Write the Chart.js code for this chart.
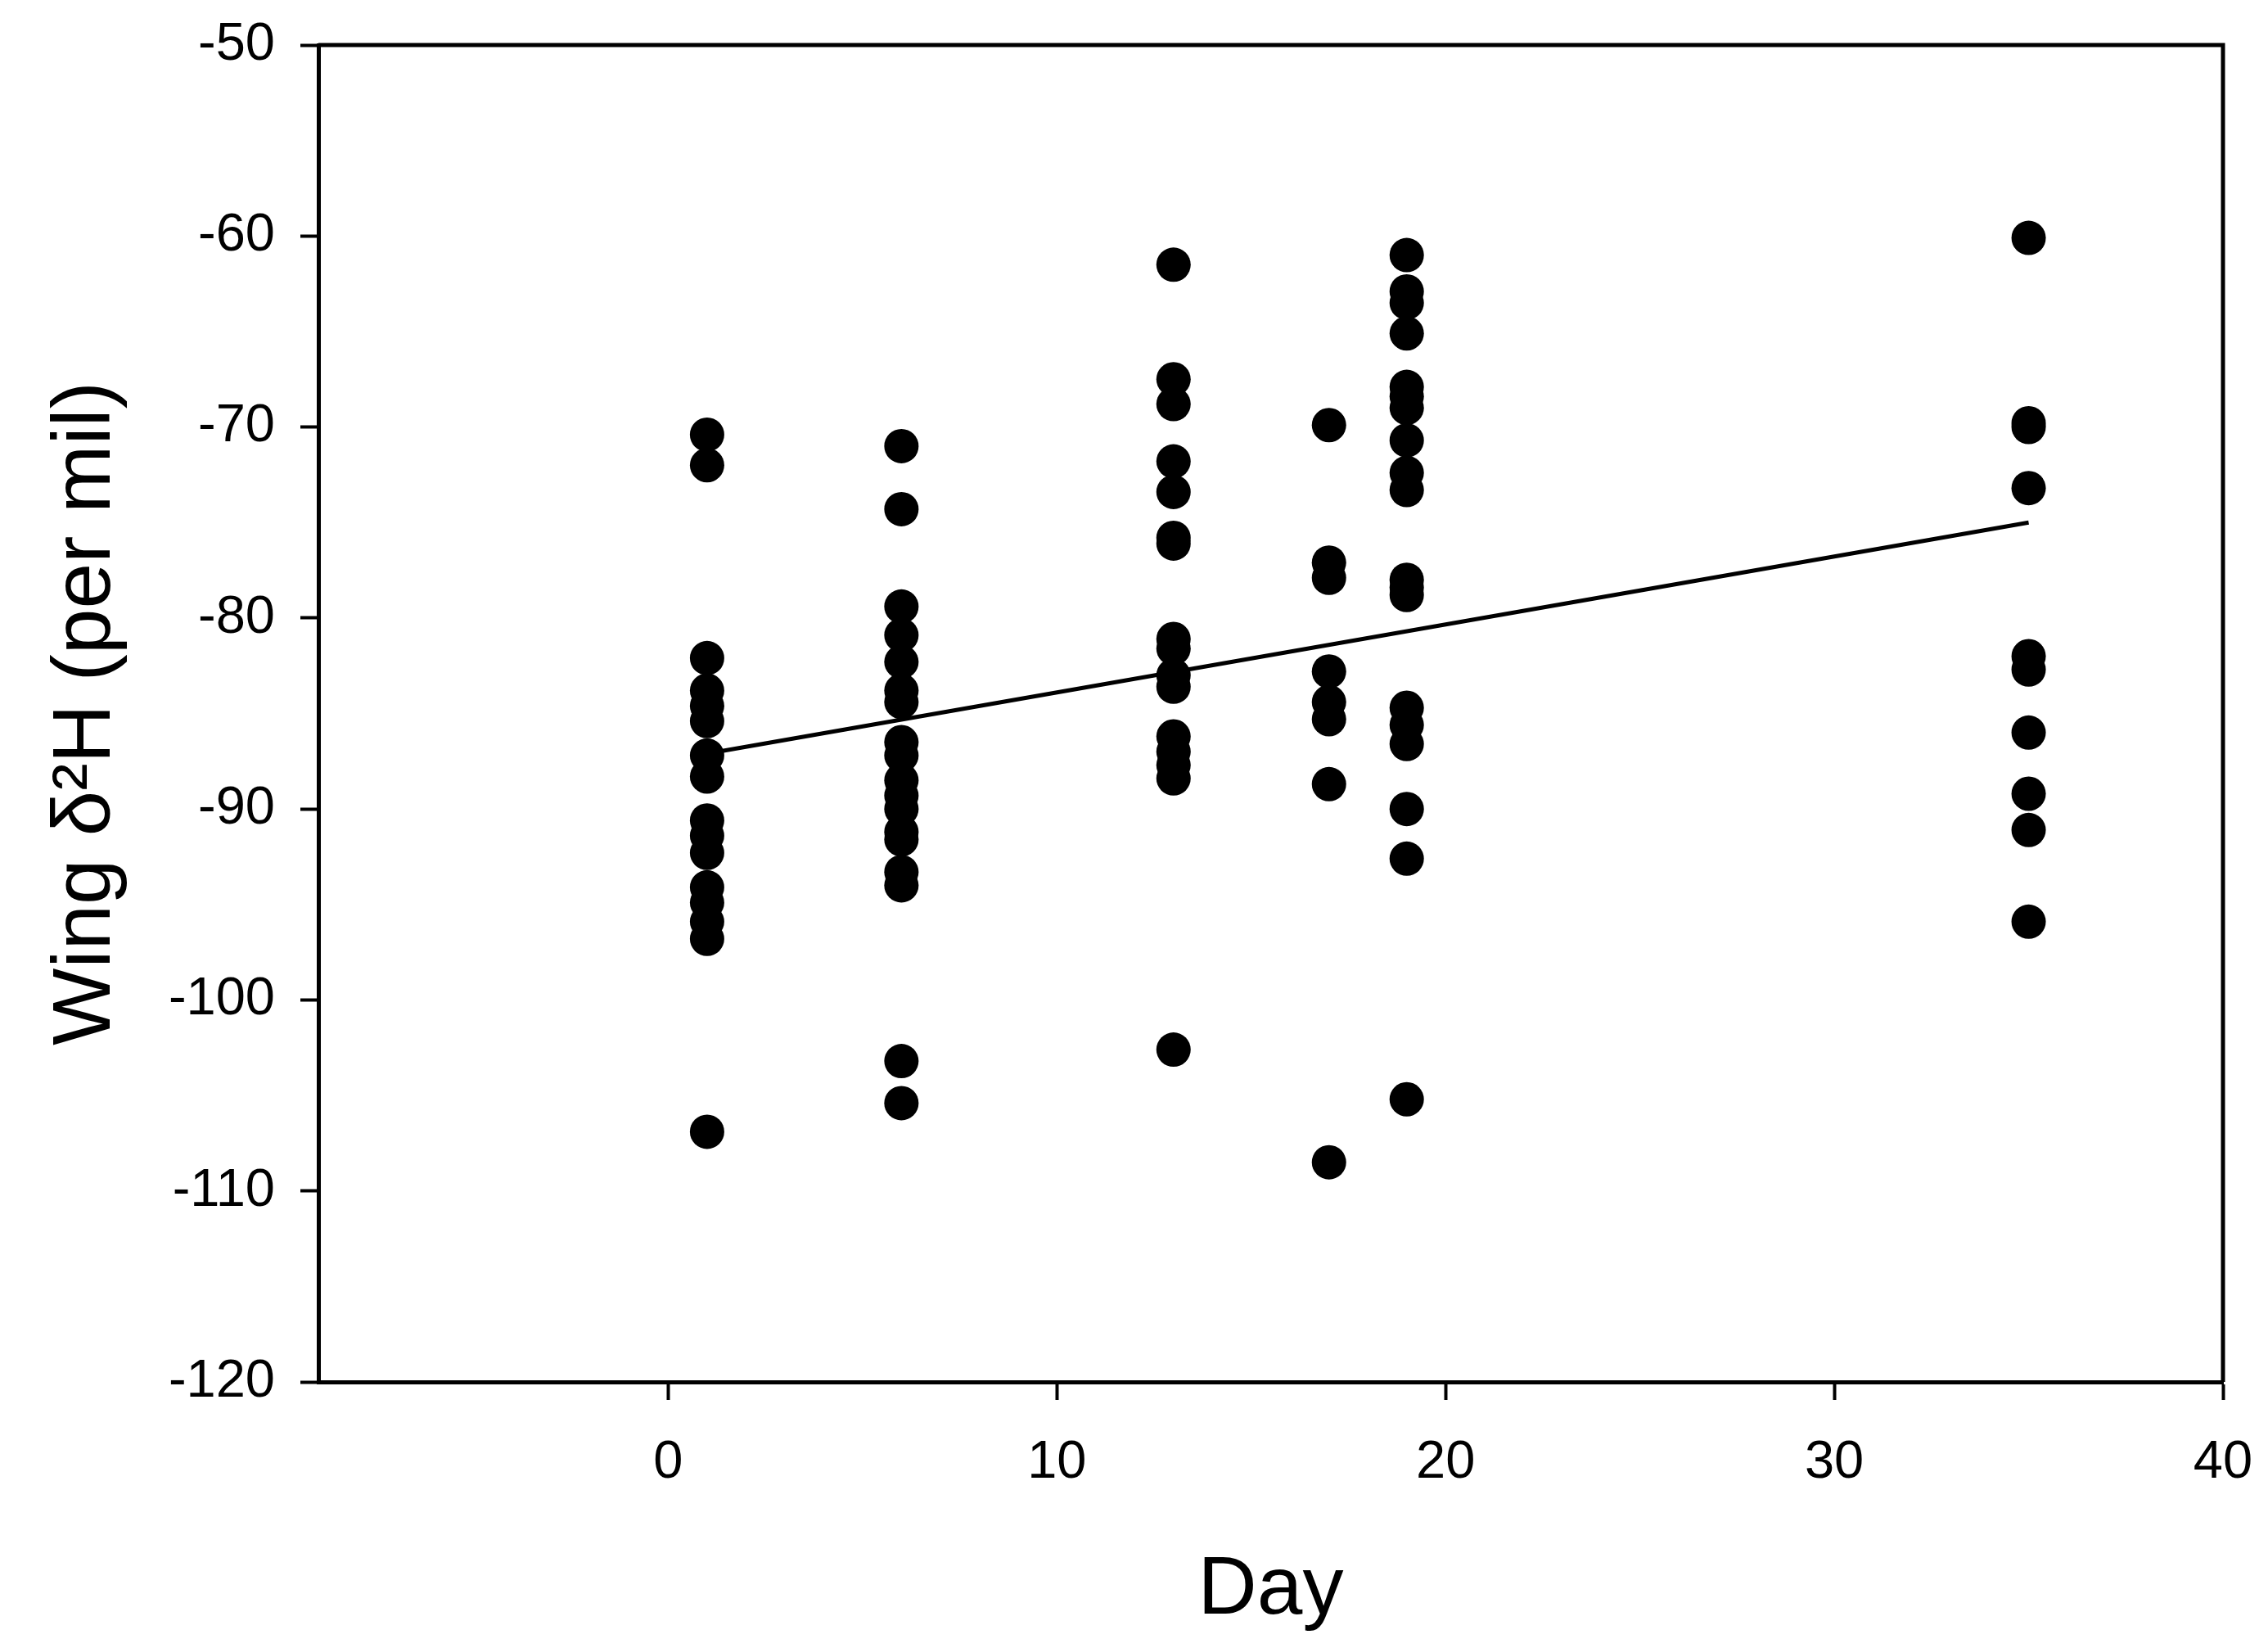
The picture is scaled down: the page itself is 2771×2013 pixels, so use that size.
<!DOCTYPE html>
<html>
<head>
<meta charset="utf-8">
<script src="https://cdn.jsdelivr.net/npm/chart.js@4.4.1/dist/chart.umd.min.js"></script>
<style>
  html, body { margin: 0; padding: 0; background: #fff; }
  #wrap { width: 2771px; height: 2013px; }
</style>
</head>
<body>
<div id="wrap"><canvas id="chartWing" width="2771" height="2013"></canvas></div>
<script>
// sampling days and wing d2H values
var days = [1, 6, 13, 17, 19, 35];
var day1 = [-70.4, -72.0, -82.1, -83.8, -84.6, -85.4, -87.2, -88.3, -90.6, -91.4, -92.3, -94.1, -94.9, -95.9, -96.8, -106.9];
var day6 = [-71.0, -74.3, -79.4, -80.9, -82.3, -83.8, -84.4, -86.5, -87.2, -88.5, -89.3, -90.0, -91.2, -91.6, -93.3, -94.0, -103.2, -105.4];
var day13 = [-61.5, -67.5, -68.8, -71.8, -73.4, -75.8, -76.1, -81.1, -81.6, -83.0, -83.6, -86.2, -87.0, -87.7, -88.4, -102.6];
var day17 = [-69.9, -77.1, -77.9, -82.8, -84.4, -85.3, -88.7, -108.5];
var day19 = [-61.0, -62.9, -63.5, -65.1, -67.9, -68.4, -69.0, -70.7, -72.4, -73.3, -78.0, -78.4, -78.8, -84.7, -85.6, -86.6, -90.0, -92.6, -105.2];
var day35 = [-60.1, -69.8, -70.0, -73.2, -82.0, -82.7, -86.0, -89.2, -91.1, -95.9];

// regression line end points
var fitX = [1, 35];
var fitY = [-87.1, -75.0];

var xTicks = [0, 10, 20, 30, 40];
var yTicks = [-120, -110, -100, -90, -80, -70, -60, -50];

var fontFamily = "'Liberation Sans', Arial, sans-serif";

document.addEventListener("DOMContentLoaded", function () {
  var ctx = document.getElementById("chartWing").getContext("2d");

  var groups = [day1, day6, day13, day17, day19, day35];
  var points = [];
  groups.forEach(function (vals, i) {
    vals.forEach(function (v) {
      points.push({ x: days[i], y: v });
    });
  });

  var fitPoints = fitX.map(function (x, i) {
    return { x: x, y: fitY[i] };
  });

  // draws the top and right sides of the frame
  var frame = {
    id: "frame",
    afterDraw: function (chart) {
      var a = chart.chartArea;
      var c = chart.ctx;
      c.save();
      c.strokeStyle = "#000";
      c.lineWidth = 5;
      c.beginPath();
      c.moveTo(a.left, a.top);
      c.lineTo(a.right, a.top);
      c.lineTo(a.right, a.bottom);
      c.stroke();
      c.restore();
    },
  };

  new Chart(ctx, {
    type: "scatter",
    data: {
      datasets: [
        {
          label: "Wing",
          data: points,
          backgroundColor: "#000",
          borderColor: "#000",
          pointRadius: 21,
          pointHoverRadius: 21,
          borderWidth: 0,
        },
        {
          label: "Fit",
          type: "line",
          data: fitPoints,
          borderColor: "#000",
          borderWidth: 5,
          pointRadius: 0,
          fill: false,
        },
      ],
    },
    options: {
      responsive: false,
      animation: false,
      layout: { padding: { top: 55, right: 55, left: 0, bottom: 0 } },
      plugins: {
        legend: { display: false },
        tooltip: { enabled: false },
      },
      scales: {
        x: {
          type: "linear",
          min: -9,
          max: 40,
          afterBuildTicks: function (scale) {
            scale.ticks = xTicks.map(function (v) { return { value: v }; });
          },
          afterFit: function (scale) {
            scale.height = 325;
            scale.paddingLeft = 0;
            scale.paddingRight = 0;
          },
          grid: {
            display: true,
            drawOnChartArea: false,
            drawTicks: true,
            tickLength: 22,
            tickWidth: 4,
            tickColor: "#000",
          },
          border: { display: true, color: "#000", width: 5 },
          ticks: {
            color: "#000",
            padding: 38,
            font: { family: fontFamily, size: 65 },
          },
          title: {
            display: true,
            text: "Day",
            color: "#000",
            padding: { top: 0, bottom: 20 },
            font: { family: fontFamily, size: 100, lineHeight: 1 },
          },
        },
        y: {
          type: "linear",
          min: -120,
          max: -50,
          afterBuildTicks: function (scale) {
            scale.ticks = yTicks.map(function (v) { return { value: v }; });
          },
          afterFit: function (scale) {
            scale.width = 389;
            scale.paddingTop = 0;
            scale.paddingBottom = 0;
          },
          grid: {
            display: true,
            drawOnChartArea: false,
            drawTicks: true,
            tickLength: 22,
            tickWidth: 4,
            tickColor: "#000",
          },
          border: { display: true, color: "#000", width: 5 },
          ticks: {
            color: "#000",
            padding: 31,
            font: { family: fontFamily, size: 65 },
          },
          title: {
            display: true,
            text: "Wing \u03B4\u00B2H (per mil)",
            color: "#000",
            padding: { top: 56, bottom: 0 },
            font: { family: fontFamily, size: 100, lineHeight: 1 },
          },
        },
      },
    },
    plugins: [frame],
  });
});
</script>
</body>
</html>
